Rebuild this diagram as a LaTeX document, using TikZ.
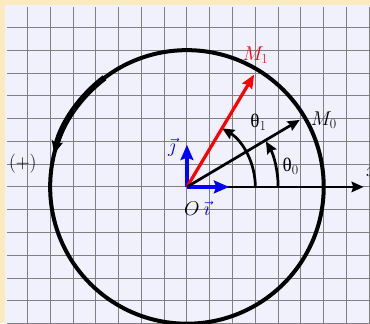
\documentclass[tikz,border=0pt]{standalone}
\usepackage{fontspec}
\newfontfamily\thetafont{Liberation Serif}
\usepackage{tikz}
\usetikzlibrary{arrows.meta}
\definecolor{paper}{HTML}{FDEBC0}
\definecolor{lavande}{HTML}{F1F1FE}
\tikzset{
  vecteur/.style={line width=3.4pt,-{Stealth[length=15pt,width=13pt,inset=2pt]}},
  base/.style={blue,line width=5pt,-{Stealth[length=19pt,width=16pt,inset=3pt]}},
  lbl/.style={font=\fontsize{24}{28}\selectfont}
}

\begin{document}
\begin{tikzpicture}
  \useasboundingbox (-8.2,-5.97) rectangle (8.03,8.2);
  \fill[paper] (-8.2,-5.97) rectangle (8.03,8.2);
  \fill[lavande] (-8,-6.1) rectangle (8.1,8);
  \draw[gray,line width=1.1pt] (-7.9,-6.1) grid (8.1,7.9);
  \coordinate (O) at (0,0);
  \coordinate (xend) at (7.75,0);
  \coordinate (M0) at (4.95,2.94);
  \coordinate (M1) at (2.95,4.93);
  \coordinate (ivec) at (1.85,0);
  \coordinate (jvec) at (0,1.85);
  % trigonometric circle
  \draw[line width=5pt] (O) circle (6);
  \draw[line width=7.5pt,-{Stealth[length=16pt,width=14pt,inset=3pt]}] (127:6) arc (127:166:6);
  \node[lbl] (plus) at (-7.2,1.0) {(+)};
  \draw[vecteur] (O) -- (xend);
  \node[lbl] (xlab) at (8.1,0.66) {$x$};
  % angles
  \draw[vecteur] (4,0) arc (0:30:4);
  \draw[vecteur] (3,0) arc (0:59:3);
  \node[lbl] (t0) at (4.55,0.9) {{\thetafont θ}$_0$};
  \node[lbl] (t1) at (3.13,2.85) {{\thetafont θ}$_1$};
  % base and points
  \draw[base] (O) -- (ivec);
  \draw[base] (O) -- (jvec);
  \draw[red,line width=4pt,-{Stealth[length=17pt,width=14pt,inset=2pt]}] (O) -- (M1);
  \draw[vecteur] (O) -- (M0);
  \node[lbl,red] (m1) at (3.0,5.78) {$M_1$};
  \node[lbl] (m0) at (6.0,2.94) {$M_0$};
  \node[lbl] (o) at (0.22,-0.95) {$O$};
  \node[lbl,blue] (ilab) at (0.88,-0.95) {$\vec{\imath}$};
  \node[lbl,blue] (jlab) at (-0.66,1.75) {$\vec{\jmath}$};
\end{tikzpicture}
\end{document}
